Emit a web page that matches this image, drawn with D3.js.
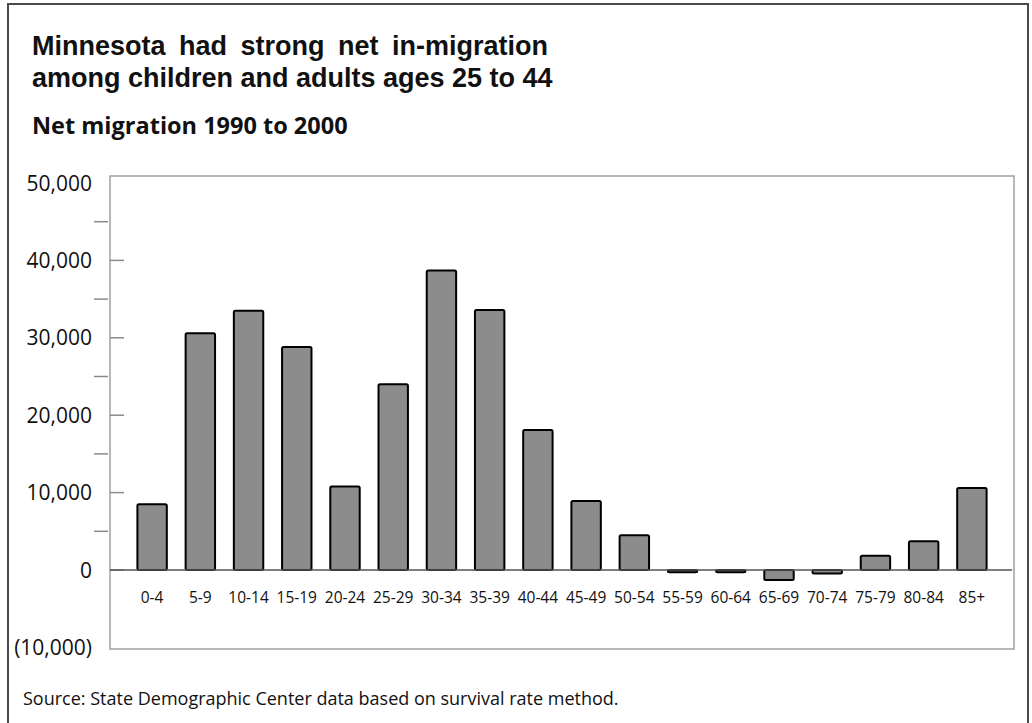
<!DOCTYPE html>
<html>
<head>
<meta charset="utf-8">
<script src="https://cdn.jsdelivr.net/npm/d3@7"></script>
<style>
  body { margin: 0; background: #fff; }
  text { font-family: "Open Sans", sans-serif; fill: #111; }
</style>
</head>
<body>
<script>
// age groups and net migration 1990-2000
var ages = ["0-4", "5-9", "10-14", "15-19", "20-24", "25-29", "30-34", "35-39", "40-44",
            "45-49", "50-54", "55-59", "60-64", "65-69", "70-74", "75-79", "80-84", "85+"]
var netMigration = [8500, 30600, 33500, 28800, 10800, 24000, 38700, 33600, 18100,
                    8900, 4500, -300, -300, -1300, -450, 1850, 3700, 10600]

var majorTicks = [-10000, 0, 10000, 20000, 30000, 40000, 50000]
var minorTicks = [5000, 15000, 25000, 35000, 45000]

var titleLines = ["Minnesota had strong net in-migration",
                  "among children and adults ages 25 to 44"]
var subtitle = "Net migration 1990 to 2000"
var source = "Source: State Demographic Center data based on survival rate method."

var width = 1032, height = 723

var svg = d3.select("body").append("svg")
	.attr("width", width)
	.attr("height", height)

// outer frame
svg.append("rect")
	.attr("x", 8).attr("y", 4)
	.attr("width", 1020).attr("height", 740)
	.attr("fill", "none")
	.attr("stroke", "#4a4a4a")
	.attr("stroke-width", 2)

// titles (first line has the wider word gaps of the original)
svg.selectAll(".title").data(titleLines).enter().append("text")
	.attr("class", "title")
	.attr("x", 32)
	.attr("y", function(d, i) { return 55 + i * 31.5 })
	.style("font-family", "'Liberation Sans', Arial, sans-serif")
	.style("font-size", "27px")
	.style("font-weight", "bold")
	.style("word-spacing", function(d, i) { return i == 0 ? "6px" : "0px" })
	.text(function(d) { return d })

svg.append("text")
	.attr("x", 32).attr("y", 134)
	.style("font-size", "23.5px")
	.style("font-weight", "bold")
	.text(subtitle)

// scales
var x = d3.scaleBand()
	.domain(ages)
	.range([128, 996])
	.paddingInner(0.39)
	.paddingOuter(0.195)

var y = d3.scaleLinear()
	.domain([-10000, 50000])
	.range([647.4, 183])

// plot frame
svg.append("rect")
	.attr("x", 110).attr("y", 176)
	.attr("width", 904).attr("height", 473)
	.attr("fill", "none")
	.attr("stroke", "#a0a0a0")
	.attr("stroke-width", 1.5)

// y tick labels
var fmt = function(v) { return v < 0 ? "(" + d3.format(",")(-v) + ")" : d3.format(",")(v) }
svg.selectAll(".ylab").data(majorTicks).enter().append("text")
	.attr("class", "ylab")
	.attr("x", 92)
	.attr("y", function(d) { return y(d) })
	.attr("dy", "0.36em")
	.attr("text-anchor", "end")
	.style("font-size", "21px")
	.text(fmt)

// major ticks (inside) and minor ticks (outside)
svg.selectAll(".major").data(majorTicks.filter(function(d) { return d > -10000 && d < 50000 }))
	.enter().append("line")
	.attr("x1", 110).attr("x2", 124)
	.attr("y1", function(d) { return y(d) })
	.attr("y2", function(d) { return y(d) })
	.attr("stroke", "#8a8a8a")
	.attr("stroke-width", 1.5)

svg.selectAll(".minor").data(minorTicks).enter().append("line")
	.attr("x1", 94).attr("x2", 108)
	.attr("y1", function(d) { return y(d) })
	.attr("y2", function(d) { return y(d) })
	.attr("stroke", "#8a8a8a")
	.attr("stroke-width", 1.5)

// bars
svg.selectAll(".bar").data(netMigration).enter().append("rect")
	.attr("class", "bar")
	.attr("x", function(d, i) { return x(ages[i]) })
	.attr("width", x.bandwidth())
	.attr("y", function(d) { return y(Math.max(0, d)) })
	.attr("height", function(d) { return Math.abs(y(d) - y(0)) })
	.attr("rx", 1.5)
	.attr("fill", "#8c8c8c")
	.attr("stroke", "#000")
	.attr("stroke-width", 2)

// zero line
svg.append("line")
	.attr("x1", 110).attr("x2", 1012)
	.attr("y1", y(0)).attr("y2", y(0))
	.attr("stroke", "#555")
	.attr("stroke-width", 1.5)

// category labels
svg.selectAll(".xlab").data(ages).enter().append("text")
	.attr("class", "xlab")
	.attr("x", function(d) { return x(d) + x.bandwidth() / 2 })
	.attr("y", 603)
	.attr("text-anchor", "middle")
	.style("font-size", "15.5px")
	.text(function(d) { return d })

// source
svg.append("text")
	.attr("x", 23).attr("y", 705)
	.style("font-size", "18px")
	.text(source)
</script>
</body>
</html>
